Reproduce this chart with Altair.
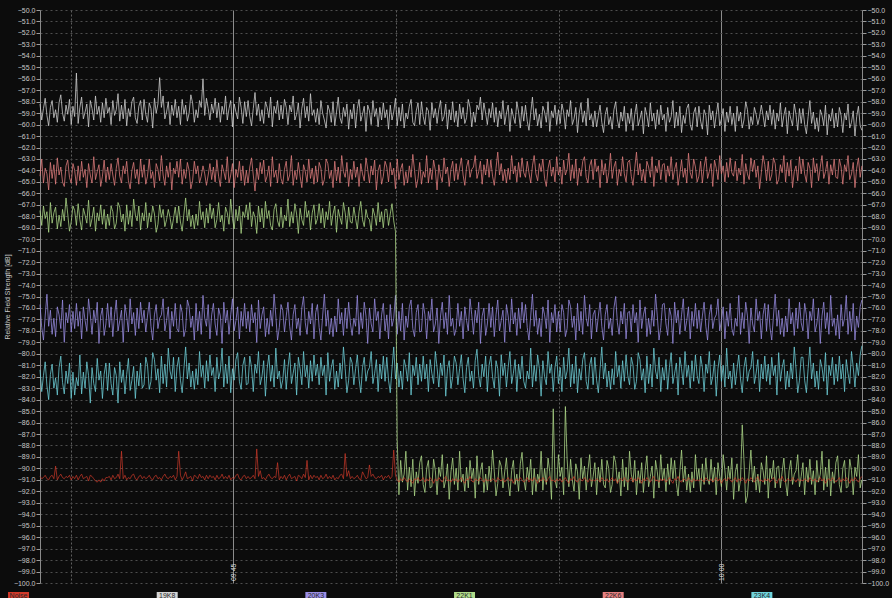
import altair as alt
import pandas as pd

# ---- series definitions -------------------------------------------------
series_names = ["Noise", "19K8", "20K3", "22K1", "22K6", "23K4"]
series_colors = ["#d23a2a", "#d4d4d4", "#9a8ee6", "#b0dc8a", "#e58080", "#6fd3dc"]
draw_order = ["19K8", "22K6", "20K3", "23K4", "22K1", "Noise"]

# sampling of the receiver log
start_time = "2012-01-01 09:39:03"
step_seconds = 3.2

# axis layout values
y_ticks = [float(v) for v in range(-100, -49)]
major_times = ["2012-01-01T09:45:00", "2012-01-01T10:00:00"]
minor_times = ["2012-01-01T09:40:00", "2012-01-01T09:50:00", "2012-01-01T09:55:00"]
x_domain = ["2012-01-01T09:39:03", "2012-01-01T10:04:20"]

# ---- measured levels (dB) ----------------------------------------------
sig_19k8 = [
    -58.2, -59.6, -58.6, -57.7, -59.2, -60.1, -58.5, -57.9, -59.4, -58.7, -59.8, -58.1, -57.4, -59.0, -59.7, -58.3, -59.1, -57.8, -60.0, -58.4,
    -59.3, -55.5, -59.9, -58.5, -57.6, -59.5, -58.9, -58.2, -60.2, -57.9, -58.6, -59.6, -57.5, -59.1, -58.4, -59.8, -58.1, -59.4, -57.7, -59.0,
    -58.5, -60.0, -57.9, -59.2, -58.7, -57.3, -59.7, -58.3, -59.5, -57.8, -60.1, -58.6, -59.3, -58.0, -57.6, -59.4, -59.9, -58.4, -57.9, -59.6,
    -57.8, -59.1, -59.8, -58.1, -58.6, -60.3, -57.7, -59.0, -58.2, -55.9, -58.5, -57.5, -59.5, -58.9, -58.0, -60.0, -58.3, -59.2, -57.8, -59.4,
    -58.4, -60.0, -57.8, -59.1, -58.3, -59.7, -59.0, -57.4, -58.1, -59.8, -58.7, -59.4, -57.9, -58.5, -56.0, -59.2, -57.7, -58.6, -59.6, -58.2,
    -59.0, -57.7, -59.4, -58.1, -59.8, -58.4, -59.1, -57.5, -59.6, -58.6, -57.9, -60.2, -58.2, -58.9, -59.5, -57.6, -58.5, -59.9, -58.0, -59.3,
    -57.9, -59.3, -60.1, -58.6, -57.2, -59.2, -58.2, -59.7, -58.7, -59.9, -58.0, -58.5, -59.4, -57.6, -60.2, -58.4, -59.0, -57.9, -59.6, -58.3,
    -59.5, -57.8, -58.5, -60.0, -58.3, -58.9, -57.5, -59.6, -59.1, -58.1, -60.3, -58.6, -57.7, -59.4, -58.4, -59.7, -57.3, -59.2, -58.7, -59.8,
    -58.6, -60.0, -57.9, -59.0, -59.6, -60.3, -58.3, -58.8, -59.8, -58.0, -60.1, -58.9, -57.6, -59.4, -59.9, -58.5, -59.3, -58.2, -60.4, -58.7,
    -59.5, -58.2, -60.3, -58.6, -57.8, -59.7, -59.1, -58.4, -60.6, -58.3, -58.8, -60.0, -57.9, -59.3, -58.6, -60.2, -58.5, -59.6, -58.1, -59.4,
    -58.7, -60.4, -58.3, -59.6, -58.9, -57.7, -60.1, -58.5, -59.7, -58.2, -60.3, -59.0, -59.5, -58.4, -57.8, -59.8, -60.1, -58.8, -58.1, -60.0,
    -58.0, -59.3, -60.0, -58.5, -58.8, -60.5, -58.1, -59.4, -58.6, -59.9, -58.7, -57.9, -59.7, -59.3, -58.2, -60.4, -58.7, -59.6, -58.0, -59.8,
    -58.8, -60.2, -58.2, -59.5, -58.5, -59.9, -59.4, -57.8, -58.5, -60.2, -58.9, -59.8, -58.3, -58.7, -57.6, -59.6, -58.1, -59.0, -60.0, -58.6,
    -59.4, -58.1, -59.8, -58.5, -60.2, -58.8, -59.5, -57.9, -60.0, -59.0, -58.3, -60.6, -58.6, -59.3, -59.9, -58.0, -58.9, -60.3, -58.4, -59.7,
    -58.3, -59.7, -60.5, -59.0, -57.6, -59.6, -58.6, -60.1, -59.1, -60.3, -58.4, -58.9, -59.8, -58.0, -60.6, -58.8, -59.4, -58.3, -60.0, -58.7,
    -59.9, -58.2, -58.9, -60.4, -58.7, -59.3, -57.9, -60.0, -59.5, -58.5, -60.7, -59.0, -58.1, -59.8, -58.8, -60.1, -57.7, -59.6, -59.1, -60.2,
    -58.8, -60.2, -59.2, -58.3, -59.8, -60.7, -59.1, -58.5, -60.0, -59.3, -60.4, -58.7, -58.0, -59.6, -60.3, -58.9, -59.7, -58.4, -60.6, -59.0,
    -59.9, -58.6, -60.5, -59.1, -58.2, -60.1, -59.5, -58.8, -60.8, -58.5, -59.2, -60.2, -58.1, -59.7, -59.0, -60.4, -58.7, -60.0, -58.3, -59.6,
    -59.1, -60.6, -58.5, -59.8, -59.3, -57.9, -60.3, -58.9, -60.1, -58.4, -60.7, -59.2, -59.9, -58.6, -58.2, -60.0, -60.5, -59.0, -58.5, -60.2,
    -58.4, -59.7, -60.4, -58.7, -59.2, -60.9, -58.3, -59.6, -58.8, -60.3, -59.1, -58.1, -60.1, -59.5, -58.6, -60.6, -58.9, -59.8, -58.4, -60.0,
    -59.0, -60.6, -58.4, -59.7, -58.9, -60.3, -59.6, -58.0, -58.7, -60.4, -59.3, -60.0, -58.5, -59.1, -60.0, -59.3, -58.3, -59.2, -60.2, -58.8,
    -59.6, -58.3, -60.0, -58.7, -60.4, -59.0, -59.7, -58.1, -60.2, -59.2, -58.5, -60.8, -58.8, -59.5, -60.1, -58.2, -59.1, -60.5, -58.6, -59.9,
    -58.6, -60.0, -60.8, -59.3, -57.9, -59.9, -58.9, -60.4, -59.4, -60.6, -58.7, -59.2, -60.1, -58.3, -60.9, -59.1, -59.7, -58.6, -60.3, -59.0,
    -60.2, -58.5, -59.2, -60.7, -59.0, -59.6, -58.2, -60.3, -59.8, -58.8, -61.0, -59.3, -58.4, -60.1, -60.5,
]

sig_22k6 = [
    -64.5, -63.0, -65.1, -63.8, -64.3, -65.7, -63.3, -64.7, -63.5, -65.2, -62.9, -64.4, -63.7, -65.0, -65.4, -63.6, -63.1, -64.6, -65.1, -63.4,
    -64.0, -65.3, -63.6, -64.9, -63.2, -64.6, -63.9, -65.5, -63.4, -64.4, -65.1, -62.8, -64.8, -64.1, -63.5, -65.4, -64.5, -63.1, -65.0, -63.7,
    -64.8, -63.4, -64.4, -65.3, -63.8, -62.9, -64.5, -65.1, -63.6, -64.3, -63.2, -64.9, -65.6, -64.0, -63.3, -64.7, -63.9, -65.2, -63.0, -64.6,
    -63.5, -65.2, -64.5, -63.0, -64.7, -64.1, -65.5, -63.4, -63.9, -64.9, -62.7, -64.4, -65.3, -63.6, -64.6, -63.3, -65.7, -63.8, -64.3, -63.2,
    -64.6, -63.0, -65.2, -63.9, -64.7, -63.3, -64.0, -65.6, -64.9, -63.2, -64.3, -63.6, -65.1, -64.5, -63.6, -64.3, -65.3, -64.4, -63.4, -64.8,
    -63.7, -65.0, -63.1, -64.5, -65.4, -63.5, -64.1, -64.8, -62.8, -65.1, -64.4, -63.4, -65.5, -63.9, -64.6, -63.2, -64.9, -63.6, -65.3, -64.0,
    -65.1, -63.7, -62.9, -64.4, -65.8, -63.8, -64.8, -63.3, -64.3, -63.1, -65.0, -64.5, -63.6, -65.4, -62.8, -64.6, -64.0, -65.1, -63.4, -64.7,
    -65.2, -63.9, -63.2, -64.9, -64.4, -62.7, -65.3, -64.0, -64.8, -63.3, -64.5, -65.5, -63.5, -64.1, -65.0, -63.0, -64.7, -63.8, -65.2, -63.6,
    -65.0, -63.3, -63.8, -65.3, -64.8, -63.0, -63.4, -64.7, -64.0, -65.5, -63.2, -64.9, -63.7, -65.1, -62.7, -64.1, -64.6, -63.3, -65.4, -63.9,
    -64.8, -63.2, -64.6, -63.7, -65.4, -63.4, -64.3, -64.9, -62.9, -63.9, -65.1, -63.6, -64.4, -63.1, -65.7, -64.0, -63.5, -65.2, -64.5, -63.2,
    -63.7, -65.0, -63.3, -64.4, -63.8, -65.6, -63.0, -64.8, -63.9, -63.4, -65.3, -64.1, -65.1, -63.6, -64.6, -62.6, -64.0, -65.5, -64.7, -63.3,
    -65.2, -64.1, -64.6, -62.7, -65.1, -63.8, -64.8, -63.1, -64.0, -65.7, -63.5, -64.5, -65.0, -62.9, -64.3, -63.7, -65.4, -63.9, -63.2, -64.9,
    -63.4, -64.8, -63.8, -62.9, -64.4, -65.3, -63.7, -63.1, -64.6, -63.9, -63.7, -62.7, -64.7, -64.1, -63.2, -65.2, -63.5, -64.4, -63.0, -64.6,
    -63.1, -64.5, -65.3, -63.8, -62.4, -64.4, -63.4, -64.9, -63.9, -65.1, -63.8, -64.8, -62.7, -64.3, -63.6, -65.0, -63.3, -64.6, -62.9, -64.2,
    -64.6, -63.2, -64.2, -65.1, -63.6, -62.7, -64.3, -64.9, -63.4, -64.1, -63.0, -64.7, -65.4, -63.8, -63.1, -64.5, -63.7, -65.0, -62.8, -64.4,
    -63.7, -65.2, -63.1, -64.4, -63.9, -62.5, -64.9, -63.5, -64.7, -63.0, -65.3, -63.8, -64.5, -63.2, -62.8, -64.6, -65.1, -63.6, -63.1, -64.8,
    -63.0, -64.1, -63.6, -65.5, -63.1, -64.4, -63.4, -65.1, -64.2, -62.5, -64.7, -63.7, -63.2, -65.3, -63.9, -64.5, -62.8, -64.3, -65.0, -63.3,
    -63.1, -64.5, -65.3, -63.8, -62.4, -64.4, -63.4, -64.9, -63.9, -65.1, -63.2, -63.7, -64.6, -62.8, -65.4, -63.6, -64.2, -63.1, -64.8, -63.5,
    -63.4, -65.0, -63.6, -64.5, -62.8, -64.8, -63.9, -63.3, -65.3, -64.3, -63.1, -64.6, -63.8, -65.1, -62.5, -64.2, -64.7, -63.0, -63.7, -65.0,
    -64.5, -63.2, -65.1, -63.7, -62.8, -64.7, -64.1, -63.4, -65.4, -63.1, -63.8, -64.8, -62.7, -64.3, -63.6, -65.0, -63.3, -64.6, -62.9, -64.2,
    -64.5, -63.2, -64.9, -63.8, -64.4, -62.6, -65.2, -63.4, -64.3, -64.8, -62.9, -64.1, -63.1, -64.6, -63.6, -65.6, -64.2, -62.7, -63.5, -64.9,
    -63.2, -64.9, -64.4, -62.9, -63.4, -65.2, -64.8, -63.5, -64.2, -62.7, -65.0, -63.3, -64.5, -63.1, -65.5, -64.1, -63.6, -64.9, -62.8, -64.3,
    -63.0, -64.3, -65.0, -63.3, -63.8, -65.5, -62.9, -64.2, -63.4, -64.9, -63.7, -62.7, -64.7, -64.1, -63.2, -65.2, -63.5, -64.4, -63.0, -64.6,
    -64.7, -63.0, -63.7, -65.2, -63.5, -64.1, -62.7, -64.8, -64.3, -63.3, -65.5, -63.8, -62.9, -64.6, -63.6,
]

# 22K1: strong until 09:50, then it falls to the noise floor
sig_22k1 = [
    -67.5, -68.8, -67.1, -68.2, -67.6, -69.4, -66.8, -68.6, -67.7, -67.2, -69.1, -67.9, -68.9, -67.4, -68.4, -66.4, -67.8, -69.3, -68.5, -67.1,
    -67.5, -68.8, -66.9, -68.3, -69.2, -67.3, -67.9, -68.6, -66.6, -68.9, -68.2, -67.2, -69.3, -67.7, -68.4, -67.0, -68.7, -67.4, -69.1, -67.8,
    -68.8, -67.1, -67.6, -69.1, -68.6, -66.8, -67.2, -68.5, -67.8, -69.3, -67.0, -68.7, -67.5, -68.9, -66.5, -67.9, -68.4, -67.1, -69.2, -67.7,
    -68.4, -66.8, -69.0, -67.7, -68.5, -67.1, -67.8, -69.4, -68.7, -67.0, -68.1, -67.4, -68.9, -68.3, -67.4, -68.1, -69.1, -68.2, -67.2, -68.6,
    -67.1, -68.5, -69.3, -67.8, -66.4, -68.4, -67.4, -68.9, -67.9, -69.1, -67.8, -68.8, -66.7, -68.3, -67.6, -69.0, -67.3, -68.6, -66.9, -68.2,
    -67.3, -69.0, -68.3, -66.8, -68.5, -67.9, -69.3, -67.2, -67.7, -68.7, -66.5, -68.2, -69.1, -67.4, -68.4, -67.1, -69.5, -67.6, -68.1, -67.0,
    -68.3, -66.8, -68.9, -67.6, -68.1, -69.5, -67.1, -68.5, -67.3, -69.0, -66.7, -68.2, -67.5, -68.8, -69.2, -67.4, -66.9, -68.4, -68.9, -67.2,
    -69.0, -67.9, -68.4, -66.5, -68.9, -67.6, -68.6, -66.9, -67.8, -69.5, -67.3, -68.3, -68.8, -66.7, -68.1, -67.5, -69.2, -67.7, -67.0, -68.7,
    -68.2, -66.9, -68.6, -67.3, -69.0, -67.6, -68.3, -66.7, -68.8, -67.8, -67.1, -69.4, -67.4, -68.1, -68.7, -66.8, -67.7, -69.1, -67.2, -68.5,
    -68.6, -67.2, -68.2, -69.1, -67.6, -66.7, -68.3, -68.9, -67.4, -68.1, -68.3, -69.3, -67.3, -67.9, -68.8, -66.8, -68.5, -67.6, -69.0, -67.4,
    -67.4, -68.8, -67.8, -66.9, -68.4, -69.3,
    -87.5, -92.3, -89.3, -91.2, -90.5, -88.5, -91.9, -89.9, -91.6, -89.2, -92.4, -90.3, -91.3, -89.5, -88.9, -91.4, -92.1, -90.0, -89.3, -91.7,
    -91.6, -89.2, -90.2, -92.3, -89.9, -90.7, -88.8, -91.7, -91.0, -89.6, -92.7, -90.3, -89.1, -91.4, -90.0, -91.9, -88.5, -91.2, -90.5, -92.0,
    -89.9, -91.7, -89.3, -90.9, -90.0, -92.6, -88.9, -91.4, -90.2, -89.5, -92.1, -90.5, -91.9, -89.8, -91.2, -88.4, -90.3, -92.4, -91.3, -89.3,
    -89.8, -91.7, -90.3, -89.1, -91.2, -92.4, -90.2, -89.3, -91.4, -90.5, -92.0, -89.6, -88.6, -90.9, -91.9, -89.9, -91.0, -89.2, -92.3, -90.0,
    -92.0, -90.5, -91.2, -88.5, -91.9, -90.0, -91.4, -89.1, -90.3, -92.7, -84.8, -91.0, -91.7, -88.8, -90.7, -89.9, -92.3, -84.6, -89.2, -91.6,
    -89.2, -91.0, -92.0, -89.6, -90.3, -92.7, -89.1, -90.9, -89.8, -91.9, -90.2, -88.8, -91.6, -90.7, -89.5, -92.3, -89.9, -91.2, -89.2, -91.4,
    -91.7, -89.3, -90.0, -92.1, -91.4, -88.9, -89.5, -91.3, -90.3, -92.4, -89.2, -91.6, -89.9, -91.9, -88.5, -90.5, -91.2, -89.3, -92.3, -90.2,
    -91.3, -89.5, -92.1, -90.2, -88.9, -91.6, -90.7, -89.8, -92.6, -89.3, -90.3, -91.7, -88.8, -91.0, -90.0, -92.0, -89.6, -91.4, -89.1, -90.9,
    -89.3, -91.3, -92.4, -90.3, -88.4, -91.2, -89.8, -91.9, -90.5, -92.1, -90.3, -91.7, -88.8, -91.0, -90.0, -92.0, -89.6, -91.4, -89.1, -90.9,
    -91.4, -89.2, -91.2, -89.9, -92.3, -89.5, -90.7, -91.6, -88.8, -90.2, -91.9, -89.8, -90.9, -89.1, -92.7, -90.3, -89.6, -92.0, -91.0, -86.2,
    -89.3, -93.0, -92.4, -90.3, -88.4, -91.2, -89.8, -91.9, -90.5, -92.1, -89.5, -90.2, -91.4, -88.9, -92.6, -90.0, -90.9, -89.3, -91.7, -89.9,
    -89.8, -91.7, -90.3, -89.1, -91.2, -92.4, -90.2, -89.3, -91.4, -90.5, -90.2, -88.8, -91.6, -90.7, -89.5, -92.3, -89.9, -91.2, -89.2, -91.4,
    -90.2, -92.3, -89.3, -91.2, -90.5, -88.5, -91.9, -89.9, -91.6, -89.2, -92.4, -90.3, -91.3, -89.5, -88.9, -91.4, -92.1, -90.0, -89.3, -91.7,
    -91.6, -89.2, -90.2, -92.3, -89.9, -90.7, -88.8, -91.7, -91.0,
]

sig_20k3 = [
    -75.7, -77.7, -78.8, -76.7, -74.8, -77.6, -76.2, -78.3, -76.9, -78.5, -75.9, -76.6, -77.8, -75.3, -79.0, -76.4, -77.3, -75.7, -78.1, -76.3,
    -77.8, -75.6, -77.6, -76.3, -78.7, -75.9, -77.1, -78.0, -75.2, -76.6, -78.3, -76.2, -77.3, -75.5, -79.1, -76.7, -76.0, -78.4, -77.4, -75.6,
    -77.7, -75.9, -78.5, -76.6, -75.3, -78.0, -77.1, -76.2, -79.0, -75.7, -76.7, -78.1, -75.2, -77.4, -76.4, -78.4, -76.0, -77.8, -75.5, -77.3,
    -76.2, -78.1, -76.7, -75.5, -77.6, -78.8, -76.6, -75.7, -77.8, -76.9, -76.6, -75.2, -78.0, -77.1, -75.9, -78.7, -76.3, -77.6, -75.6, -77.8,
    -78.1, -75.7, -76.4, -78.5, -77.8, -75.3, -75.9, -77.7, -76.7, -78.8, -75.6, -78.0, -76.3, -78.3, -74.9, -76.9, -77.6, -75.7, -78.7, -76.6,
    -75.6, -77.4, -78.4, -76.0, -76.7, -79.1, -75.5, -77.3, -76.2, -78.3, -76.6, -75.2, -78.0, -77.1, -75.9, -78.7, -76.3, -77.6, -75.6, -77.8,
    -76.3, -78.1, -75.7, -77.3, -76.4, -79.0, -75.3, -77.8, -76.6, -75.9, -78.5, -76.9, -78.3, -76.2, -77.6, -74.8, -76.7, -78.8, -77.7, -75.7,
    -76.2, -78.1, -76.7, -75.5, -77.6, -78.8, -76.6, -75.7, -77.8, -76.9, -78.4, -76.0, -75.0, -77.3, -78.3, -76.3, -77.4, -75.6, -78.7, -76.4,
    -75.7, -77.7, -78.8, -76.7, -74.8, -77.6, -76.2, -78.3, -76.9, -78.5, -76.7, -78.1, -75.2, -77.4, -76.4, -78.4, -76.0, -77.8, -75.5, -77.3,
    -78.4, -76.9, -77.6, -74.9, -78.3, -76.4, -77.8, -75.5, -76.7, -79.1, -76.0, -77.4, -78.1, -75.2, -77.1, -76.3, -78.7, -76.6, -75.6, -78.0,
    -76.6, -78.7, -75.7, -77.6, -76.9, -74.9, -78.3, -76.3, -78.0, -75.6, -78.8, -76.7, -77.7, -75.9, -75.3, -77.8, -78.5, -76.4, -75.7, -78.1,
    -78.0, -75.6, -76.6, -78.7, -76.3, -77.1, -75.2, -78.1, -77.4, -76.0, -79.1, -76.7, -75.5, -77.8, -76.4, -78.3, -74.9, -77.6, -76.9, -78.4,
    -77.8, -75.6, -77.6, -76.3, -78.7, -75.9, -77.1, -78.0, -75.2, -76.6, -78.3, -76.2, -77.3, -75.5, -79.1, -76.7, -76.0, -78.4, -77.4, -75.6,
    -77.7, -75.9, -78.5, -76.6, -75.3, -78.0, -77.1, -76.2, -79.0, -75.7, -76.7, -78.1, -75.2, -77.4, -76.4, -78.4, -76.0, -77.8, -75.5, -77.3,
    -75.7, -77.7, -78.8, -76.7, -74.8, -77.6, -76.2, -78.3, -76.9, -78.5, -75.9, -76.6, -77.8, -75.3, -79.0, -76.4, -77.3, -75.7, -78.1, -76.3,
    -78.1, -75.7, -76.4, -78.5, -77.8, -75.3, -75.9, -77.7, -76.7, -78.8, -75.6, -78.0, -76.3, -78.3, -74.9, -76.9, -77.6, -75.7, -78.7, -76.6,
    -76.2, -78.1, -76.7, -75.5, -77.6, -78.8, -76.6, -75.7, -77.8, -76.9, -78.4, -76.0, -75.0, -77.3, -78.3, -76.3, -77.4, -75.6, -78.7, -76.4,
    -76.3, -78.1, -75.7, -77.3, -76.4, -79.0, -75.3, -77.8, -76.6, -75.9, -78.5, -76.9, -78.3, -76.2, -77.6, -74.8, -76.7, -78.8, -77.7, -75.7,
    -75.6, -77.4, -78.4, -76.0, -76.7, -79.1, -75.5, -77.3, -76.2, -78.3, -76.6, -75.2, -78.0, -77.1, -75.9, -78.7, -76.3, -77.6, -75.6, -77.8,
    -76.2, -78.1, -76.7, -75.5, -77.6, -78.8, -76.6, -75.7, -77.8, -76.9, -76.6, -75.2, -78.0, -77.1, -75.9, -78.7, -76.3, -77.6, -75.6, -77.8,
    -78.4, -76.9, -77.6, -74.9, -78.3, -76.4, -77.8, -75.5, -76.7, -79.1, -76.0, -77.4, -78.1, -75.2, -77.1, -76.3, -78.7, -76.6, -75.6, -78.0,
    -75.7, -77.7, -78.8, -76.7, -74.8, -77.6, -76.2, -78.3, -76.9, -78.5, -76.7, -78.1, -75.2, -77.4, -76.4, -78.4, -76.0, -77.8, -75.5, -77.3,
    -78.0, -75.6, -76.6, -78.7, -76.3, -77.1, -75.2, -78.1, -77.4, -76.0, -79.1, -76.7, -75.5, -77.8, -76.4, -78.3, -74.9, -77.6, -76.9, -78.4,
    -76.6, -78.7, -75.7, -77.6, -76.9, -74.9, -78.3, -76.3, -78.0, -75.6, -78.8, -76.7, -77.7, -75.9, -75.3,
]

sig_23k4 = [
    -81.4, -83.3, -81.9, -80.7, -82.8, -84.0, -81.8, -80.9, -83.0, -82.1, -83.6, -81.2, -80.2, -82.5, -83.5, -81.5, -82.6, -80.8, -83.9, -81.6,
    -83.6, -82.1, -82.8, -80.1, -83.5, -81.6, -83.0, -80.7, -81.9, -84.3, -81.2, -82.6, -83.3, -80.4, -82.3, -81.5, -83.9, -81.8, -80.8, -83.2,
    -80.8, -82.6, -83.6, -81.2, -81.9, -84.3, -80.7, -82.5, -81.4, -83.5, -81.8, -80.4, -83.2, -82.3, -81.1, -83.9, -81.5, -82.8, -80.8, -83.0,
    -82.7, -80.3, -81.0, -83.1, -82.4, -79.9, -80.5, -82.3, -81.3, -83.4, -80.2, -82.6, -80.9, -82.9, -79.5, -81.5, -82.2, -80.3, -83.3, -81.2,
    -80.3, -82.3, -83.4, -81.3, -79.4, -82.2, -80.8, -82.9, -81.5, -83.1, -81.3, -82.7, -79.8, -82.0, -81.0, -83.0, -80.6, -82.4, -80.1, -81.9,
    -81.2, -83.3, -80.3, -82.2, -81.5, -79.5, -82.9, -80.9, -82.6, -80.2, -83.4, -81.3, -82.3, -80.5, -79.9, -82.4, -83.1, -81.0, -80.3, -82.7,
    -82.6, -80.2, -81.2, -83.3, -80.9, -81.7, -79.8, -82.7, -82.0, -80.6, -83.7, -81.3, -80.1, -82.4, -81.0, -82.9, -79.5, -82.2, -81.5, -83.0,
    -82.3, -80.5, -83.1, -81.2, -79.9, -82.6, -81.7, -80.8, -83.6, -80.3, -81.3, -82.7, -79.8, -82.0, -81.0, -83.0, -80.6, -82.4, -80.1, -81.9,
    -80.9, -82.7, -80.3, -81.9, -81.0, -83.6, -79.9, -82.4, -81.2, -80.5, -83.1, -81.5, -82.9, -80.8, -82.2, -79.4, -81.3, -83.4, -82.3, -80.3,
    -80.8, -82.7, -81.3, -80.1, -82.2, -83.4, -81.2, -80.3, -82.4, -81.5, -81.2, -79.8, -82.6, -81.7, -80.5, -83.3, -80.9, -82.2, -80.2, -82.4,
    -80.3, -82.3, -83.4, -81.3, -79.4, -82.2, -80.8, -82.9, -81.5, -83.1, -80.5, -81.2, -82.4, -79.9, -83.6, -81.0, -81.9, -80.3, -82.7, -80.9,
    -82.4, -80.2, -82.2, -80.9, -83.3, -80.5, -81.7, -82.6, -79.8, -81.2, -82.9, -80.8, -81.9, -80.1, -83.7, -81.3, -80.6, -83.0, -82.0, -80.2,
    -80.8, -82.7, -81.3, -80.1, -82.2, -83.4, -81.2, -80.3, -82.4, -81.5, -83.0, -80.6, -79.6, -81.9, -82.9, -80.9, -82.0, -80.2, -83.3, -81.0,
    -80.2, -82.0, -83.0, -80.6, -81.3, -83.7, -80.1, -81.9, -80.8, -82.9, -81.2, -79.8, -82.6, -81.7, -80.5, -83.3, -80.9, -82.2, -80.2, -82.4,
    -83.0, -81.5, -82.2, -79.5, -82.9, -81.0, -82.4, -80.1, -81.3, -83.7, -80.6, -82.0, -82.7, -79.8, -81.7, -80.9, -83.3, -81.2, -80.2, -82.6,
    -81.2, -83.3, -80.3, -82.2, -81.5, -79.5, -82.9, -80.9, -82.6, -80.2, -83.4, -81.3, -82.3, -80.5, -79.9, -82.4, -83.1, -81.0, -80.3, -82.7,
    -80.3, -82.3, -83.4, -81.3, -79.4, -82.2, -80.8, -82.9, -81.5, -83.1, -81.3, -82.7, -79.8, -82.0, -81.0, -83.0, -80.6, -82.4, -80.1, -81.9,
    -82.7, -80.3, -81.0, -83.1, -82.4, -79.9, -80.5, -82.3, -81.3, -83.4, -80.2, -82.6, -80.9, -82.9, -79.5, -81.5, -82.2, -80.3, -83.3, -81.2,
    -82.3, -80.5, -83.1, -81.2, -79.9, -82.6, -81.7, -80.8, -83.6, -80.3, -81.3, -82.7, -79.8, -82.0, -81.0, -83.0, -80.6, -82.4, -80.1, -81.9,
    -82.6, -80.2, -81.2, -83.3, -80.9, -81.7, -79.8, -82.7, -82.0, -80.6, -83.7, -81.3, -80.1, -82.4, -81.0, -82.9, -79.5, -82.2, -81.5, -83.0,
    -80.8, -82.7, -81.3, -80.1, -82.2, -83.4, -81.2, -80.3, -82.4, -81.5, -81.2, -79.8, -82.6, -81.7, -80.5, -83.3, -80.9, -82.2, -80.2, -82.4,
    -80.9, -82.7, -80.3, -81.9, -81.0, -83.6, -79.9, -82.4, -81.2, -80.5, -83.1, -81.5, -82.9, -80.8, -82.2, -79.4, -81.3, -83.4, -82.3, -80.3,
    -80.3, -82.3, -83.4, -81.3, -79.4, -82.2, -80.8, -82.9, -81.5, -83.1, -80.5, -81.2, -82.4, -79.9, -83.6, -81.0, -81.9, -80.3, -82.7, -80.9,
    -82.4, -80.2, -82.2, -80.9, -83.3, -80.5, -81.7, -82.6, -79.8, -81.2, -82.9, -80.8, -81.9, -80.1, -79.3,
]

sig_noise = [
    -90.7, -90.9, -90.8, -90.6, -90.9, -91.0, -90.7, -90.6, -90.9, -89.8, -91.0, -90.7, -90.5, -90.8, -90.9, -90.7, -90.8, -90.6, -91.0, -90.7,
    -90.9, -90.6, -91.0, -90.7, -90.5, -90.9, -90.8, -90.7, -91.1, -90.6, -90.7, -90.9, -91.1, -91.2, -91.0, -91.2, -90.9, -91.1, -90.8, -90.8,
    -90.7, -91.0, -90.6, -90.9, -90.8, -90.5, -90.9, -88.5, -90.9, -90.6, -91.0, -90.8, -90.9, -90.6, -90.5, -90.9, -91.0, -90.7, -90.6, -90.9,
    -90.7, -90.9, -90.8, -90.6, -90.9, -91.0, -90.7, -90.6, -90.9, -90.8, -91.0, -90.7, -90.5, -90.8, -90.9, -90.7, -90.8, -90.6, -91.0, -90.7,
    -88.5, -90.6, -91.0, -90.7, -90.3, -90.9, -90.8, -90.7, -91.1, -90.6, -90.7, -90.9, -90.5, -90.8, -90.7, -91.0, -90.6, -90.9, -90.6, -90.8,
    -90.7, -91.0, -90.6, -90.9, -90.8, -90.5, -90.9, -90.7, -90.9, -90.6, -91.0, -90.8, -90.9, -90.6, -90.5, -90.9, -91.0, -90.7, -90.6, -90.9,
    -90.7, -90.9, -90.8, -90.6, -90.9, -88.3, -90.7, -90.2, -90.9, -90.8, -91.0, -90.7, -90.5, -90.8, -90.9, -90.7, -90.8, -89.5, -91.0, -90.7,
    -90.9, -90.6, -91.0, -90.7, -90.5, -90.9, -90.8, -90.7, -91.1, -90.6, -90.7, -90.9, -90.5, -90.8, -89.3, -91.0, -90.6, -90.9, -90.6, -90.8,
    -90.7, -91.0, -90.6, -90.9, -90.8, -90.5, -90.9, -90.7, -90.9, -90.6, -91.0, -90.8, -90.9, -90.6, -90.5, -90.9, -88.7, -90.7, -90.2, -90.9,
    -90.7, -90.9, -90.8, -90.6, -90.9, -91.0, -90.3, -90.6, -90.9, -90.8, -89.7, -90.7, -90.5, -90.8, -90.9, -90.7, -90.8, -90.6, -91.0, -90.7,
    -90.8, -90.6, -90.9, -90.7, -88.4, -90.6, -91.0, -91.2, -90.9, -91.1, -90.8, -91.0, -91.2, -90.9, -91.1, -91.3, -90.9, -91.0, -90.8, -91.1,
    -91.0, -90.8, -91.2, -90.9, -91.1, -90.8, -91.0, -91.3, -90.9, -91.1, -90.8, -91.0, -91.2, -90.9, -90.7, -91.1, -91.0, -91.2, -90.9, -91.1,
    -90.9, -91.2, -91.0, -90.8, -91.1, -91.3, -90.9, -91.0, -90.7, -91.1, -91.2, -90.9, -91.0, -91.1, -90.8, -91.0, -91.2, -90.9, -91.1, -91.0,
    -91.1, -90.9, -91.0, -91.2, -90.8, -91.0, -91.1, -90.9, -91.2, -91.0, -90.8, -91.1, -90.9, -91.3, -91.0, -90.9, -91.1, -90.8, -91.0, -91.2,
    -91.0, -90.8, -91.2, -90.9, -91.1, -90.8, -91.0, -91.3, -90.9, -91.1, -90.8, -91.0, -91.2, -90.9, -90.7, -91.1, -91.0, -91.2, -90.9, -91.1,
    -90.9, -91.2, -91.0, -90.8, -91.1, -91.3, -90.9, -91.0, -90.7, -91.1, -91.2, -90.9, -91.0, -91.1, -90.8, -91.0, -91.2, -90.9, -91.1, -91.0,
    -91.1, -90.9, -91.0, -91.2, -90.8, -91.0, -91.1, -90.9, -91.2, -91.0, -90.8, -91.1, -90.9, -91.3, -91.0, -90.9, -91.1, -90.8, -91.0, -91.2,
    -91.0, -90.8, -91.2, -90.9, -91.1, -90.8, -91.0, -91.3, -90.9, -91.1, -90.8, -91.0, -91.2, -90.9, -90.7, -91.1, -91.0, -91.2, -90.9, -91.1,
    -90.9, -91.2, -91.0, -90.8, -91.1, -91.3, -90.9, -91.0, -90.7, -91.1, -91.2, -90.9, -91.0, -91.1, -90.8, -91.0, -91.2, -90.9, -91.1, -91.0,
    -91.1, -90.9, -91.0, -91.2, -90.8, -91.0, -91.1, -90.9, -91.2, -91.0, -90.8, -91.1, -90.9, -91.3, -91.0, -90.9, -91.1, -90.8, -91.0, -91.2,
    -91.0, -90.8, -91.2, -90.9, -91.1, -90.8, -91.0, -91.3, -90.9, -91.1, -90.8, -91.0, -91.2, -90.9, -90.7, -91.1, -91.0, -91.2, -90.9, -91.1,
    -90.9, -91.2, -91.0, -90.8, -91.1, -91.3, -90.9, -91.0, -90.7, -91.1, -91.2, -90.9, -91.0, -91.1, -90.8, -91.0, -91.2, -90.9, -91.1, -91.0,
    -91.1, -90.9, -91.0, -91.2, -90.8, -91.0, -91.1, -90.9, -91.2, -91.0, -90.8, -91.1, -90.9, -91.3, -91.0, -90.9, -91.1, -90.8, -91.0, -91.2,
    -91.0, -90.8, -91.2, -90.9, -91.1, -90.8, -91.0, -91.3, -90.9, -91.1, -90.8, -91.0, -91.2, -90.9, -90.7,
]

levels = {
    "Noise": sig_noise,
    "19K8": sig_19k8,
    "20K3": sig_20k3,
    "22K1": sig_22k1,
    "22K6": sig_22k6,
    "23K4": sig_23k4,
}

# ---- long table ---------------------------------------------------------
frames = []
for name, vals in levels.items():
    t = pd.date_range(start_time, periods=len(vals), freq=pd.Timedelta(seconds=step_seconds))
    frames.append(pd.DataFrame({
        "time": t.strftime("%Y-%m-%dT%H:%M:%S.%f").str[:-3],
        "level": vals,
        "series": name,
    }))
df = pd.concat(frames, ignore_index=True)
legend_df = pd.DataFrame({"series": series_names})

# ---- styling ------------------------------------------------------------
BG = "#0c0c0c"
LABEL = "#c8c8c8"
FONT = "Liberation Sans"

color_scale = alt.Scale(domain=series_names, range=series_colors)
x_scale = alt.Scale(domain=x_domain)
y_scale = alt.Scale(domain=[-100, -50], nice=False, zero=False)

y_axis_left = alt.Axis(
    orient="left", values=y_ticks, format=".1f",
    title="Relative Field Strength [dB]", titleFontSize=7, titleFontWeight="normal",
    titleColor=LABEL, titleFont=FONT, titlePadding=3,
    labelFontSize=7, labelColor=LABEL, labelFont=FONT, labelPadding=1,
    tickSize=4, tickColor="#9a9a9a", domainColor="#8a8a8a",
    grid=True, gridColor="#4e4e4e", gridDash=[2, 3], gridWidth=1,
)
y_axis_right = alt.Axis(
    orient="right", values=y_ticks, format=".1f", title=None,
    labelFontSize=7, labelColor=LABEL, labelFont=FONT, labelPadding=1,
    tickSize=4, tickColor="#9a9a9a", domainColor="#8a8a8a", grid=False,
)
x_axis_minor = alt.Axis(
    orient="bottom", values=minor_times, labels=False, ticks=False, domain=False, title=None,
    grid=True, gridColor="#5e5e5e", gridDash=[2, 2], gridWidth=1,
)
x_axis_major = alt.Axis(
    orient="bottom", values=major_times, format="%H:%M", labelAngle=270, labelPadding=-20,
    labelFontSize=7, labelColor="#dcdcdc", labelFont=FONT,
    ticks=False, tickSize=0, domain=False, title=None,
    grid=True, gridColor="#8c8c8c", gridWidth=1,
)

axis_for = {
    "19K8": (x_axis_minor, y_axis_left),
    "22K6": (x_axis_major, y_axis_right),
}

layers = []
for name in draw_order:
    xa, ya = axis_for.get(name, (None, None))
    x_enc = alt.X("time:T", scale=x_scale, axis=xa) if xa is not None else alt.X("time:T", scale=x_scale, axis=None)
    y_enc = alt.Y("level:Q", scale=y_scale, axis=ya) if ya is not None else alt.Y("level:Q", scale=y_scale, axis=None)
    layers.append(
        alt.Chart(df[df["series"] == name])
        .mark_line(strokeWidth=0.8, opacity=0.95 if name != "Noise" else 0.85)
        .encode(
            x=x_enc,
            y=y_enc,
            color=alt.Color("series:N", scale=color_scale, legend=None),
        )
    )

plot = alt.layer(*layers).resolve_axis(x="independent", y="independent")

# ---- series key along the bottom edge -----------------------------------
key_x = alt.X(
    "series:N",
    scale=alt.Scale(domain=series_names, range=[-95.8, 796.2], paddingInner=0, paddingOuter=0),
    axis=None,
)
key_boxes = alt.Chart(legend_df).mark_bar(width=21).encode(
    x=key_x,
    y=alt.value(582),
    y2=alt.value(598),
    color=alt.Color("series:N", scale=color_scale, legend=None),
)
key_text = alt.Chart(legend_df).mark_text(
    fontSize=7, font=FONT, color="#2a2a2a", baseline="middle", align="center"
).encode(
    x=key_x,
    y=alt.value(586),
    text="series:N",
)
key = alt.layer(key_boxes, key_text)

chart = (
    alt.layer(plot, key)
    .resolve_scale(x="independent")
    .properties(
        width=822,
        height=573,
        autosize=alt.AutoSizeParams(type="none"),
        padding={"left": 40, "top": 10, "right": 30, "bottom": 15},
        background=BG,
    )
    .configure_view(stroke=None, fill=BG)
)

chart.save("out.html", embed_options={"renderer": "svg", "actions": False})
